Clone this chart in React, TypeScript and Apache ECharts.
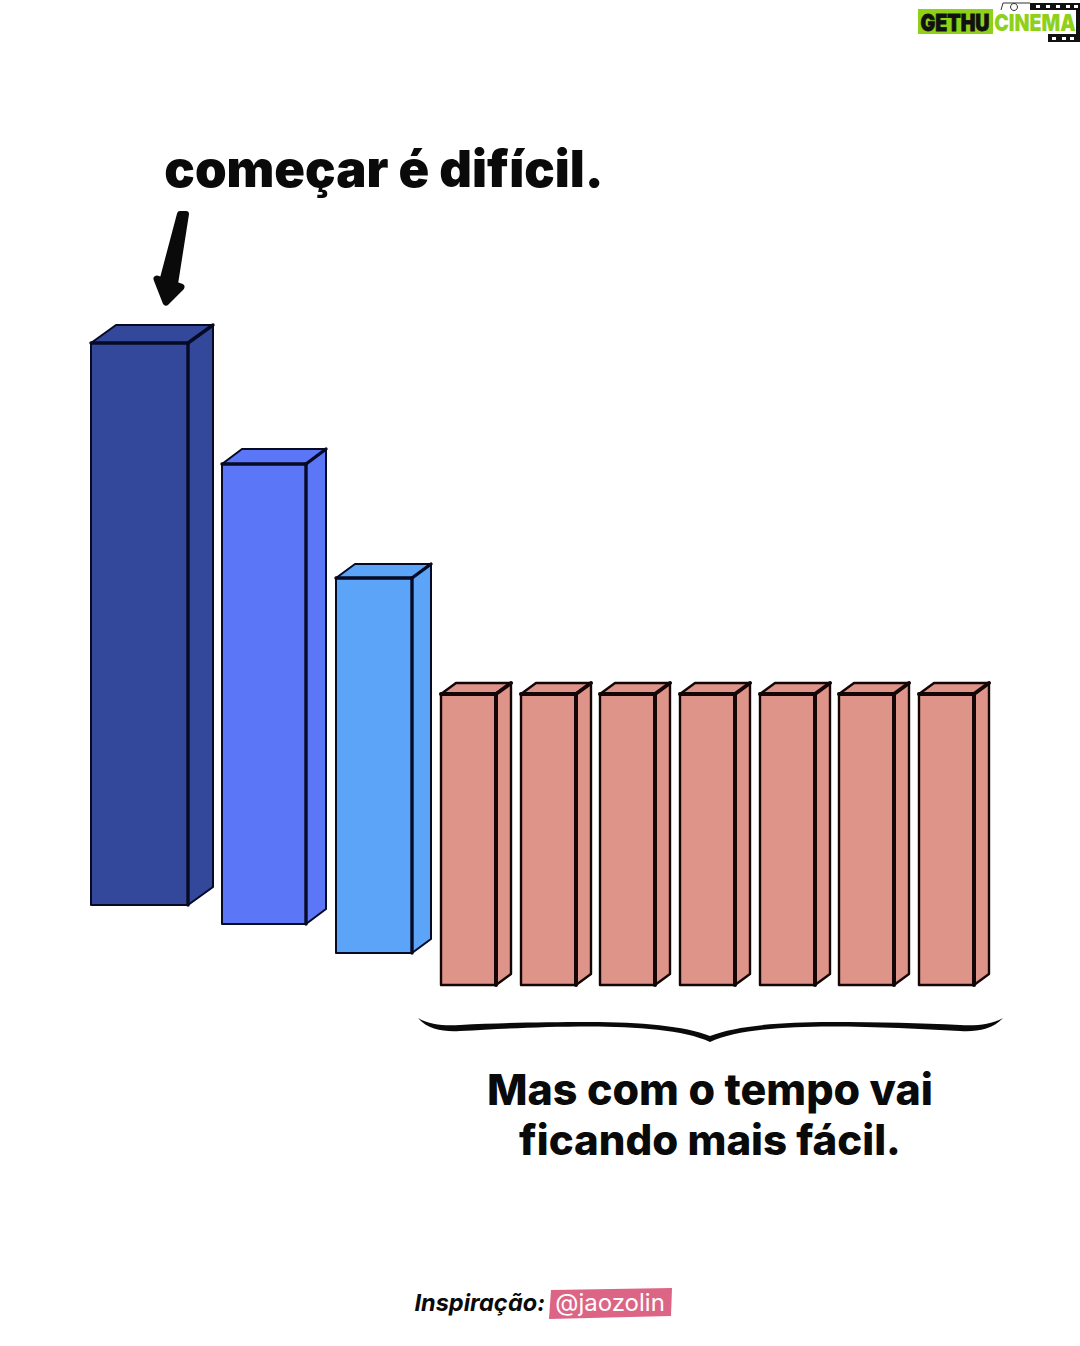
import React, { useEffect, useRef } from "react";
import * as echarts from "echarts";

const barStarts = [91, 222, 336, 441, 521, 600, 680, 760, 839, 919];
const barWidths = [97, 84, 76, 55, 55, 55, 55, 55, 55, 55];
const barBases = [441, 422, 393, 361, 361, 361, 361, 361, 361, 361];
const barHeights = [562, 460, 375, 291, 291, 291, 291, 291, 291, 291];
const barDepths = [25, 20, 19, 15, 15, 15, 15, 15, 15, 15];
const barRises = [18, 15, 14, 11, 11, 11, 11, 11, 11, 11];
const barColors = ["#33489b", "#5b76f7", "#5ba4f8", "#de9488", "#de9488", "#de9488", "#de9488", "#de9488", "#de9488", "#de9488"];
const barStrokes = ["#060a24", "#060a24", "#060a24", "#140606", "#140606", "#140606", "#140606", "#140606", "#140606", "#140606"];

const titleText = "começar é difícil.";
const captionLines = ["Mas com o tempo vai", "ficando mais fácil."];
const creditLabel = "Inspiração:";
const creditHandle = "@jaozolin";
const logoLeft = "GETHU";
const logoRight = "CINEMA";

const bracePath =
  "M418 1018 C430 1025 445 1026 460 1025 C500 1023 540 1022 590 1022 C640 1022 685 1026 710 1036 " +
  "C735 1026 780 1022 830 1022 C880 1022 920 1023 960 1025 C975 1026 990 1025 1003 1018 " +
  "C992 1030 975 1032 960 1031 C920 1029 880 1026.5 830 1026.5 C785 1026.5 735 1030 710 1042 " +
  "C685 1030 635 1026.5 590 1026.5 C540 1026.5 500 1029 460 1031 C445 1032 428 1030 418 1018 Z";

echarts.graphic.registerShape("brace", echarts.graphic.extendPath(bracePath, {}) as any);

export default function App() {
  const ref = useRef<HTMLDivElement>(null);
  useEffect(() => {
    document.body.style.margin = "0";
    const chart = echarts.init(ref.current!, undefined, { renderer: "svg" });
    const renderItem = (params: any, api: any) => {
      const i = params.dataIndex;
      const x0 = api.value(0);
      const base = api.value(1);
      const top = base + api.value(2);
      const x1 = x0 + barWidths[i];
      const dx = barDepths[i];
      const dy = barRises[i];
      const p = (x: number, y: number) => api.coord([x, y]);
      const fill = barColors[i];
      const stroke = barStrokes[i];
      const thin = i < 3 ? 2 : 2.4;
      const face = { fill, stroke, lineWidth: thin, lineJoin: "round" };
      const edge = { stroke, lineWidth: i < 3 ? 3.4 : 4, lineCap: "round" };
      return {
        type: "group",
        children: [
          { type: "polygon", shape: { points: [p(x1, base), p(x1 + dx, base + dy), p(x1 + dx, top + dy), p(x1, top)] }, style: face },
          { type: "polygon", shape: { points: [p(x0, top), p(x0 + dx, top + dy), p(x1 + dx, top + dy), p(x1, top)] }, style: face },
          { type: "polygon", shape: { points: [p(x0, base), p(x1, base), p(x1, top), p(x0, top)] }, style: face },
          { type: "line", shape: { x1: p(x1, base)[0], y1: p(x1, base)[1], x2: p(x1, top)[0], y2: p(x1, top)[1] }, style: edge },
          { type: "line", shape: { x1: p(x0, top)[0], y1: p(x0, top)[1], x2: p(x1, top)[0], y2: p(x1, top)[1] }, style: edge },
          { type: "line", shape: { x1: p(x1, top)[0], y1: p(x1, top)[1], x2: p(x1 + dx, top + dy)[0], y2: p(x1 + dx, top + dy)[1] }, style: edge },
        ],
      };
    };
    const dots = [1036, 1046, 1056, 1066, 1074];
    chart.setOption({
      animation: false,
      backgroundColor: "#ffffff",
      grid: { left: 0, right: 0, top: 0, bottom: 0 },
      xAxis: { type: "value", min: 0, max: 1080, show: false },
      yAxis: { type: "value", min: 0, max: 1346, show: false },
      series: [
        {
          type: "custom",
          coordinateSystem: "cartesian2d",
          clip: false,
          renderItem,
          encode: { x: 0, y: 1 },
          data: barStarts.map((s, i) => [s, barBases[i], barHeights[i]]),
        },
      ],
      graphic: [
        { type: "text", x: 384, y: 168, style: { text: titleText, font: "900 50.7px Inter", fill: "#0a0a0a", textAlign: "center", textVerticalAlign: "middle" } },
        { type: "polygon", shape: { points: [[180, 214], [186, 214], [175, 284], [162, 282]] }, style: { fill: "#0a0a0a", stroke: "#0a0a0a", lineWidth: 6, lineJoin: "round" } },
        { type: "polygon", shape: { points: [[157, 279], [181, 287], [166, 302]] }, style: { fill: "#0a0a0a", stroke: "#0a0a0a", lineWidth: 7, lineJoin: "round" } },
        { type: "brace", style: { fill: "#0a0a0a" } },
        { type: "text", x: 710, y: 1089, style: { text: captionLines[0], font: "800 43px Inter", fill: "#0a0a0a", textAlign: "center", textVerticalAlign: "middle" } },
        { type: "text", x: 710, y: 1139, style: { text: captionLines[1], font: "800 42px Inter", fill: "#0a0a0a", textAlign: "center", textVerticalAlign: "middle" } },
        { type: "text", x: 545, y: 1302, style: { text: creditLabel, font: "italic 700 23.5px Inter", fill: "#0a0a0a", textAlign: "right", textVerticalAlign: "middle" } },
        { type: "polygon", shape: { points: [[551, 1290], [672, 1288], [671, 1316], [549, 1319]] }, style: { fill: "#dc6586" } },
        { type: "text", x: 610, y: 1302, style: { text: creditHandle, font: "400 24px Inter", fill: "#ffffff", textAlign: "center", textVerticalAlign: "middle" } },
        // logo
        { type: "rect", shape: { x: 918, y: 9, width: 75, height: 25 }, style: { fill: "#8fd118" } },
        { type: "rect", shape: { x: 1030, y: 3, width: 50, height: 7 }, style: { fill: "#111111" } },
        { type: "rect", shape: { x: 1048, y: 34, width: 32, height: 8 }, style: { fill: "#111111" } },
        { type: "rect", shape: { x: 1076, y: 3, width: 4, height: 38 }, style: { fill: "#111111" } },
        ...dots.map((x) => ({ type: "rect", shape: { x, y: 5, width: 4, height: 3 }, style: { fill: "#ffffff" } })),
        ...dots.slice(2).map((x) => ({ type: "rect", shape: { x: x - 4, y: 37, width: 4, height: 3 }, style: { fill: "#ffffff" } })),
        { type: "polyline", shape: { points: [[1001, 10], [1003, 3], [1030, 3]] }, style: { fill: "none", stroke: "#333333", lineWidth: 1 } },
        { type: "circle", shape: { cx: 1014, cy: 7, r: 3.5 }, style: { fill: "none", stroke: "#333333", lineWidth: 1 } },
        { type: "text", x: 955, y: 22, scaleX: 0.85, style: { text: logoLeft, font: "900 23px Inter", fill: "#111111", stroke: "#111111", lineWidth: 0.8, textAlign: "center", textVerticalAlign: "middle" } },
        { type: "text", x: 1035, y: 22, scaleX: 0.85, style: { text: logoRight, font: "900 23px Inter", fill: "#8fd118", textAlign: "center", textVerticalAlign: "middle" } },
      ],
    });
    return () => chart.dispose();
  }, []);
  return <div ref={ref} style={{ width: 1080, height: 1346, position: "absolute", left: 0, top: 0 }} />;
}
